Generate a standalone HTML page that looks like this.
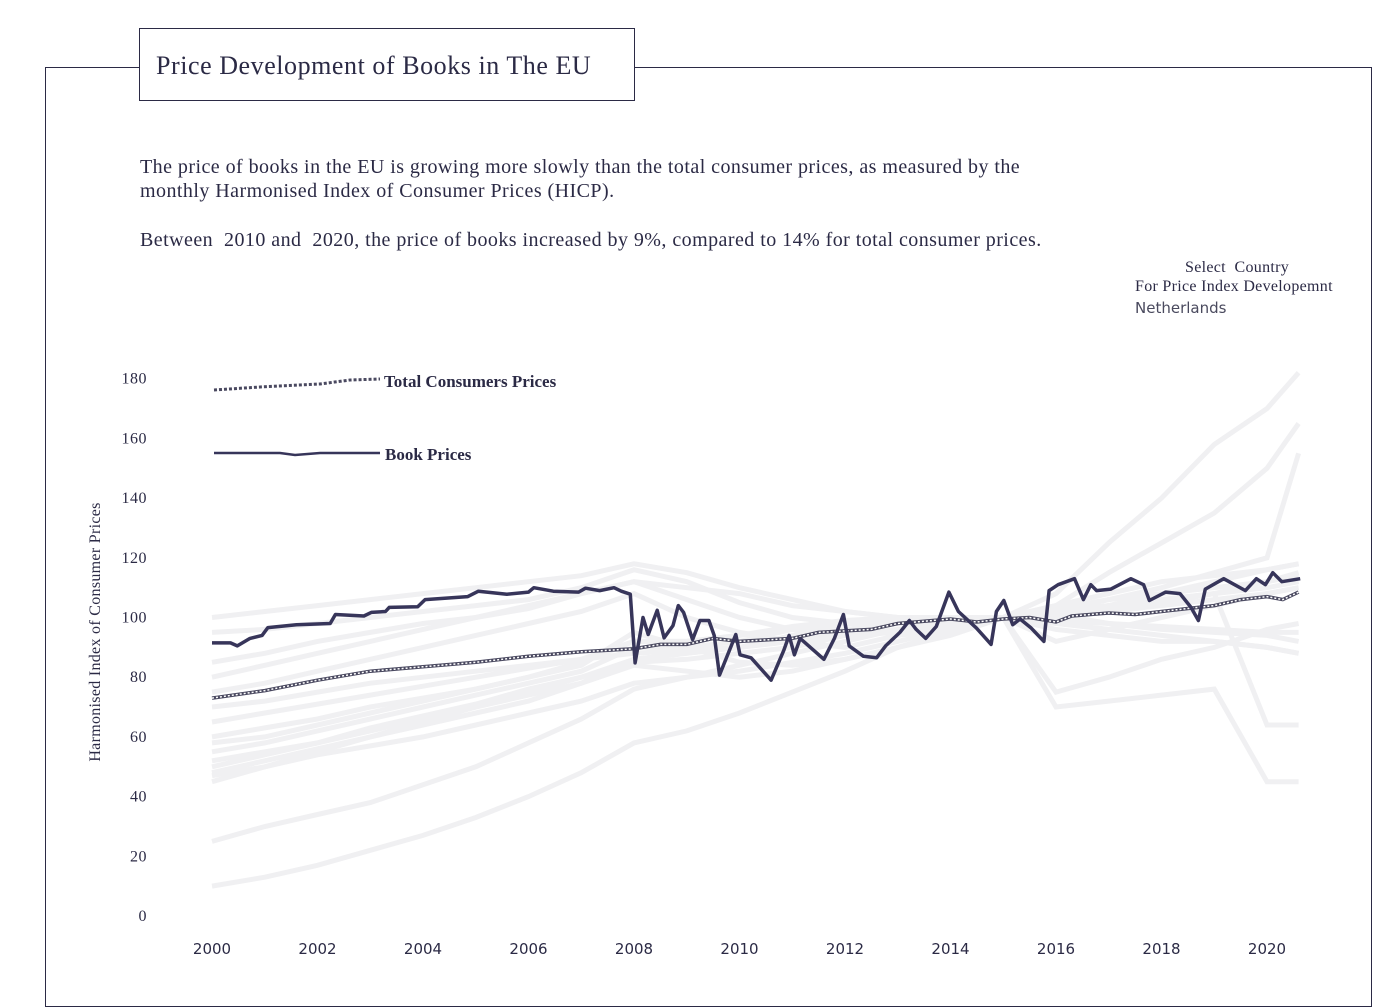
<!DOCTYPE html>
<html><head><meta charset="utf-8">
<style>
body{margin:0;width:1400px;height:982px;background:#fff;position:relative;overflow:hidden;font-family:"Liberation Serif",serif;color:#2b2a45}
#frame{position:absolute;left:45px;top:67px;width:1327px;height:940px;border:1px solid #2b2a45;box-sizing:border-box}
#title{position:absolute;left:139px;top:28px;width:496px;height:73px;border:1px solid #2b2a45;background:#fff;box-sizing:border-box;font-size:26px;line-height:73px;padding-left:16px;letter-spacing:0.55px}
.p{position:absolute;left:140px;font-size:20px;line-height:24px;letter-spacing:0.45px}
#sel{position:absolute;left:1135px;top:258px;font-size:16px;line-height:19px;letter-spacing:0.3px}
svg{position:absolute;left:0;top:0}
</style></head><body>
<div id="frame"></div>
<div id="title">Price Development of Books in The EU</div>
<div class="p" style="top:155px">The price of books in the EU is growing more slowly than the total consumer prices, as measured by the<br>monthly Harmonised Index of Consumer Prices (HICP).</div>
<div class="p" style="top:228px">Between&nbsp; 2010 and&nbsp; 2020, the price of books increased by 9%, compared to 14% for total consumer prices.</div>
<div id="sel">
<div style="padding-left:50px">Select&nbsp; Country</div>
<div>For Price Index Developemnt</div>
<div style="font-family:'DejaVu Sans',sans-serif;font-size:15px;color:#4a4a5e;margin-top:3px;letter-spacing:0">Netherlands</div>
</div>
<svg id="chart" width="1400" height="982"></svg>
<script>
const xTicks=[2000,2002,2004,2006,2008,2010,2012,2014,2016,2018,2020];
const yTicks=[0,20,40,60,80,100,120,140,160,180];
const bookYears=[2000.0,2000.35,2000.48,2000.72,2000.95,2001.06,2001.6,2002.24,2002.34,2002.88,2003.02,2003.29,2003.36,2003.9,2004.04,2004.85,2005.05,2005.59,2006.0,2006.1,2006.47,2006.95,2007.08,2007.35,2007.62,2007.76,2007.93,2008.02,2008.17,2008.27,2008.44,2008.57,2008.74,2008.84,2008.94,2009.11,2009.25,2009.42,2009.52,2009.62,2009.93,2010.01,2010.22,2010.6,2010.84,2010.94,2011.04,2011.15,2011.6,2011.8,2011.97,2012.08,2012.35,2012.6,2012.77,2013.04,2013.22,2013.35,2013.53,2013.73,2013.97,2014.15,2014.49,2014.77,2014.87,2015.01,2015.18,2015.32,2015.52,2015.77,2015.87,2016.04,2016.35,2016.52,2016.66,2016.77,2017.04,2017.42,2017.66,2017.77,2018.08,2018.35,2018.56,2018.7,2018.83,2019.18,2019.59,2019.8,2019.97,2020.11,2020.28,2020.63];
const bookValues=[91.5,91.5,90.5,93,94,96.6,97.6,98,101,100.5,101.7,102,103.4,103.6,106,107,108.8,107.8,108.5,110,108.8,108.5,109.8,109,110,108.8,107.8,84.8,100,94.3,102.4,93.2,97.3,104,101.7,92.6,99,99,94,80.7,94.3,87.5,86.5,79,89,94,87.5,93,86,93,101,90.5,87,86.5,90.5,95,99,96,93,97,108.5,102,96.5,91,102,105.7,97.6,99.5,96.6,92,109,111,113,106,111,109,109.5,113,111,105.7,108.5,108,103.4,99,109.5,113,109,113,111,115,112,113];
const cpiYears=[2000,2001,2002,2003,2004,2005,2006,2007,2008,2008.5,2009,2009.5,2010,2011,2011.5,2012,2012.5,2013,2014,2014.5,2015,2015.5,2016,2016.3,2017,2017.5,2018,2018.5,2019,2019.5,2020,2020.3,2020.6];
const cpiValues=[73,75.5,79,82,83.5,85,87,88.5,89.5,91,91,93,92,93,95,95.5,96,98,99.5,98.5,99.5,100,98.5,100.5,101.5,101,102,103,104,106,107,106,108.5];
const greyYears=[2000,2001,2002,2003,2004,2005,2006,2007,2008,2009,2010,2011,2012,2013,2014,2015,2016,2017,2018,2019,2020,2020.6];
const grey1=[10,13,17,22,27,33,40,48,58,62,68,75,82,90,95,100,108,125,140,158,170,182];
const grey2=[25,30,34,38,44,50,58,66,76,80,84,88,92,96,98,100,104,115,125,135,150,165];
const grey3=[48,52,56,60,64,68,72,78,86,88,90,94,98,100,100,100,102,106,110,115,120,155];
const grey4=[55,58,62,66,70,74,78,82,90,90,92,96,98,100,99,100,101,104,108,112,116,118];
const grey5=[60,63,66,70,73,76,80,85,92,92,94,97,99,100,100,100,101,103,105,108,112,114];
const grey6=[65,68,71,74,77,80,83,86,92,92,94,96,98,99,100,100,100,102,104,106,108,110];
const grey7=[85,88,92,95,98,100,103,108,112,110,108,104,102,100,100,100,96,94,92,92,90,88];
const grey8=[95,96,98,100,102,104,106,110,116,112,105,100,98,98,99,100,101,98,96,95,94,92];
const grey9=[50,54,58,63,67,71,76,80,86,88,90,93,96,98,99,100,70,72,74,76,45,45];
const grey10=[70,72,75,78,80,82,84,86,88,89,90,92,94,96,98,100,102,104,106,108,64,64];
const grey11=[100,102,104,106,108,110,112,114,118,115,110,106,102,100,100,100,98,96,94,92,90,88];
const grey12=[45,50,55,60,65,70,75,80,85,86,88,90,94,96,98,100,102,104,106,108,110,112];
const grey13=[75,78,82,86,90,94,98,102,108,100,95,92,90,94,96,100,104,108,112,114,116,118];
const grey14=[58,60,64,68,72,76,80,84,95,90,85,84,86,90,94,100,92,96,100,104,108,110];
const grey15=[52,55,58,62,66,70,74,78,84,82,80,82,86,90,95,100,75,80,86,90,96,98];
const grey16=[80,84,88,92,96,100,104,108,112,106,100,96,94,95,97,100,103,106,108,110,112,115];
const grey17=[47,50,54,57,60,64,68,72,78,80,82,85,88,92,96,100,99,98,97,96,95,95];
const greySeries=[grey1,grey2,grey3,grey4,grey5,grey6,grey7,grey8,grey9,grey10,grey11,grey12,grey13,grey14,grey15,grey16,grey17];
const X=y=>212+(y-2000)*52.75;
const Y=v=>916-v*2.985;
const NS='http://www.w3.org/2000/svg';
const svg=document.getElementById('chart');
function mk(t,a){const e=document.createElementNS(NS,t);for(const k in a)e.setAttribute(k,a[k]);svg.appendChild(e);return e;}
function pts(xs,vs){return xs.map((x,i)=>X(x).toFixed(1)+','+Y(vs[i]).toFixed(1)).join(' ');}
yTicks.forEach(v=>{const t=mk('text',{x:147,y:Y(v)+5,'text-anchor':'end','font-size':16,'letter-spacing':0.5,'font-family':'Liberation Serif, serif',fill:'#2b2a45'});t.textContent=v;

});
xTicks.forEach(v=>{const t=mk('text',{x:X(v),y:954,'text-anchor':'middle','font-size':15,'font-family':'DejaVu Sans, sans-serif',fill:'#2b2a45'});t.textContent=v;

});
const yt=mk('text',{x:0,y:0,transform:'translate(100,632) rotate(-90)','text-anchor':'middle','font-size':16,'letter-spacing':0.3,'font-family':'Liberation Serif, serif',fill:'#2b2a45'});yt.textContent='Harmonised Index of Consumer Prices';


greySeries.forEach(s=>{const l=mk('polyline',{points:pts(greyYears,s),fill:'none',stroke:'#f0f0f2','stroke-width':5});

});
const cl=mk('polyline',{points:pts(cpiYears,cpiValues),fill:'none',stroke:'#4a4960','stroke-width':3.5});


const cd=mk('polyline',{points:pts(cpiYears,cpiValues),fill:'none',stroke:'#fff','stroke-width':1.5,'stroke-dasharray':'2 2'});


const bl=mk('polyline',{points:pts(bookYears,bookValues),fill:'none',stroke:'#37355a','stroke-width':3.5,'stroke-linejoin':'round'});


const lg1=mk('polyline',{points:'214,390 260,387 320,384 350,380 380,379',fill:'none',stroke:'#4a4960','stroke-width':3,'stroke-dasharray':'3 2'});


const lt1=mk('text',{x:384,y:387,'font-size':17,'font-weight':'bold','font-family':'Liberation Serif, serif',fill:'#2b2a45'});lt1.textContent='Total Consumers Prices';


const lg2=mk('polyline',{points:'214,453 280,453 295,455 320,453 380,453',fill:'none',stroke:'#37355a','stroke-width':2.5});


const lt2=mk('text',{x:385,y:460,'font-size':17,'font-weight':'bold','font-family':'Liberation Serif, serif',fill:'#2b2a45'});lt2.textContent='Book Prices';


</script>
</body></html>
